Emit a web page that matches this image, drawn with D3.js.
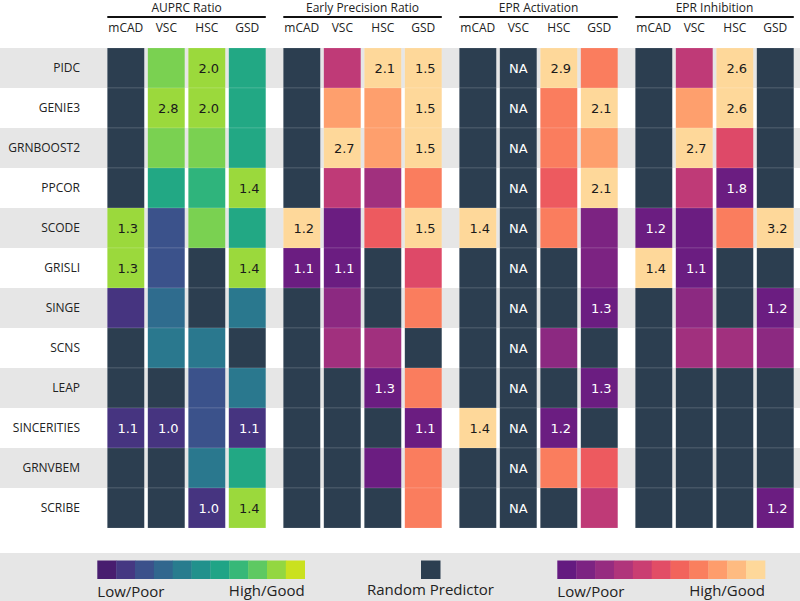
<!DOCTYPE html>
<html>
<head>
<meta charset="utf-8">
<script src="https://cdn.jsdelivr.net/npm/d3@7"></script>
<style>
  body { margin: 0; background: #fff; }
  svg { display: block; }
</style>
</head>
<body>
<div id="chart"></div>
<script>
// algorithms (rows), datasets (columns), metrics (column groups)
var algorithms = ["PIDC", "GENIE3", "GRNBOOST2", "PPCOR", "SCODE", "GRISLI",
                  "SINGE", "SCNS", "LEAP", "SINCERITIES", "GRNVBEM", "SCRIBE"];
var datasets = ["mCAD", "VSC", "HSC", "GSD"];
var metrics = ["AUPRC Ratio", "Early Precision Ratio", "EPR Activation", "EPR Inhibition"];

// colour score of each cell (position on the palette), null = random predictor
var auprcScore = [
  [null, 0.80, 0.85, 0.60],
  [null, 0.85, 0.85, 0.60],
  [null, 0.80, 0.80, 0.60],
  [null, 0.60, 0.65, 0.85],
  [0.85, 0.25, 0.80, 0.60],
  [0.85, 0.25, null, 0.85],
  [0.15, 0.35, null, 0.40],
  [null, 0.40, 0.40, null],
  [null, null, 0.25, 0.40],
  [0.15, 0.15, 0.25, 0.15],
  [null, null, 0.40, 0.60],
  [null, null, 0.15, 0.85]
];
var auprcLabel = [
  ["", "", "2.0", ""],
  ["", "2.8", "2.0", ""],
  ["", "", "", ""],
  ["", "", "", "1.4"],
  ["1.3", "", "", ""],
  ["1.3", "", "", "1.4"],
  ["", "", "", ""],
  ["", "", "", ""],
  ["", "", "", ""],
  ["1.1", "1.0", "", "1.1"],
  ["", "", "", ""],
  ["", "", "1.0", "1.4"]
];

var eprScore = [
  [null, 0.52, 0.92, 0.92],
  [null, 0.80, 0.80, 0.92],
  [null, 0.92, 0.80, 0.92],
  [null, 0.52, 0.45, 0.73],
  [0.92, 0.32, 0.65, 0.92],
  [0.32, 0.32, null, 0.60],
  [null, 0.40, null, 0.73],
  [null, 0.45, 0.45, null],
  [null, null, 0.32, 0.73],
  [null, null, null, 0.32],
  [null, null, 0.32, 0.73],
  [null, null, null, 0.73]
];
var eprLabel = [
  ["", "", "2.1", "1.5"],
  ["", "", "", "1.5"],
  ["", "2.7", "", "1.5"],
  ["", "", "", ""],
  ["1.2", "", "", "1.5"],
  ["1.1", "1.1", "", ""],
  ["", "", "", ""],
  ["", "", "", ""],
  ["", "", "1.3", ""],
  ["", "", "", "1.1"],
  ["", "", "", ""],
  ["", "", "", ""]
];

var actScore = [
  [null, null, 0.92, 0.73],
  [null, null, 0.73, 0.92],
  [null, null, 0.73, 0.80],
  [null, null, 0.65, 0.92],
  [0.92, null, 0.73, 0.36],
  [null, null, null, 0.36],
  [null, null, null, 0.32],
  [null, null, 0.40, null],
  [null, null, null, 0.32],
  [0.92, null, 0.32, null],
  [null, null, 0.73, 0.65],
  [null, null, null, 0.52]
];
var actLabel = [
  ["", "NA", "2.9", ""],
  ["", "NA", "", "2.1"],
  ["", "NA", "", ""],
  ["", "NA", "", "2.1"],
  ["1.4", "NA", "", ""],
  ["", "NA", "", ""],
  ["", "NA", "", "1.3"],
  ["", "NA", "", ""],
  ["", "NA", "", "1.3"],
  ["1.4", "NA", "1.2", ""],
  ["", "NA", "", ""],
  ["", "NA", "", ""]
];

var inhScore = [
  [null, 0.52, 0.92, null],
  [null, 0.80, 0.92, null],
  [null, 0.92, 0.60, null],
  [null, 0.52, 0.32, null],
  [0.32, 0.32, 0.73, 0.92],
  [0.92, 0.32, null, null],
  [null, 0.40, null, 0.32],
  [null, 0.45, 0.45, 0.40],
  [null, null, null, null],
  [null, null, null, null],
  [null, null, null, null],
  [null, null, null, 0.32]
];
var inhLabel = [
  ["", "", "2.6", ""],
  ["", "", "2.6", ""],
  ["", "2.7", "", ""],
  ["", "", "1.8", ""],
  ["1.2", "", "", "3.2"],
  ["1.4", "1.1", "", ""],
  ["", "", "", "1.2"],
  ["", "", "", ""],
  ["", "", "", ""],
  ["", "", "", ""],
  ["", "", "", ""],
  ["", "", "", "1.2"]
];

// legend palette stops
var viridisStops = [0.08, 0.164, 0.248, 0.332, 0.416, 0.5, 0.584, 0.668, 0.752, 0.836, 0.92];
var magmaStops = [0.30, 0.362, 0.424, 0.486, 0.548, 0.61, 0.672, 0.734, 0.796, 0.858, 0.92];

var width = 800, height = 601;
var randomColor = "#2c3e50";
var labelFont = "'Open Sans', sans-serif";
var cellFont = "'DejaVu Sans', sans-serif";

var viridis = d3.scaleSequential(d3.interpolateViridis).domain([0, 1]);
var magma = d3.scaleSequential(d3.interpolateMagma).domain([0, 1]);

var groups = [
  { name: metrics[0], score: auprcScore, label: auprcLabel, color: viridis, dark: 0.78 },
  { name: metrics[1], score: eprScore, label: eprLabel, color: magma, dark: 0.85 },
  { name: metrics[2], score: actScore, label: actLabel, color: magma, dark: 0.85 },
  { name: metrics[3], score: inhScore, label: inhLabel, color: magma, dark: 0.85 }
];

var svg = d3.select("#chart").append("svg")
  .attr("width", width).attr("height", height);

var y = d3.scaleBand().domain(algorithms).range([48, 528]);
var xGroup = d3.scaleBand().domain(metrics).range([107.3, 793.8]).paddingInner(0.0994);
var xCol = d3.scaleBand().domain(datasets).range([0, xGroup.bandwidth()]).paddingInner(0.086);

// row stripes
svg.append("g").selectAll("rect")
  .data(algorithms.filter(function(d, i) { return i % 2 === 0; }))
  .join("rect")
  .attr("x", 0).attr("width", width)
  .attr("y", function(d) { return y(d); })
  .attr("height", y.bandwidth())
  .attr("fill", "#e6e6e6");

// row labels
svg.append("g").selectAll("text")
  .data(algorithms)
  .join("text")
  .attr("x", 80)
  .attr("y", function(d) { return y(d) + y.bandwidth() / 2 + 4.4; })
  .attr("text-anchor", "end")
  .attr("font-family", labelFont).attr("font-size", "12px")
  .attr("fill", "#222")
  .text(function(d) { return d; });

groups.forEach(function(g) {
  var gx = xGroup(g.name);
  var grp = svg.append("g").attr("transform", "translate(" + gx + ",0)");

  grp.append("text")
    .attr("x", xGroup.bandwidth() / 2).attr("y", 12)
    .attr("text-anchor", "middle")
    .attr("font-family", labelFont).attr("font-size", "12px")
    .attr("fill", "#222")
    .text(g.name);

  grp.append("line")
    .attr("x1", 0).attr("x2", xGroup.bandwidth())
    .attr("y1", 17).attr("y2", 17)
    .attr("stroke", "#111").attr("stroke-width", 1.8);

  grp.selectAll(".col")
    .data(datasets)
    .join("text")
    .attr("class", "col")
    .attr("x", function(d) { return xCol(d) + xCol.bandwidth() / 2; })
    .attr("y", 31.7)
    .attr("text-anchor", "middle")
    .attr("font-family", labelFont).attr("font-size", "12px")
    .attr("fill", "#222")
    .text(function(d) { return d; });

  var cells = [];
  algorithms.forEach(function(a, i) {
    datasets.forEach(function(ds, j) {
      cells.push({ alg: a, ds: ds, score: g.score[i][j], label: g.label[i][j] });
    });
  });

  grp.selectAll(".cell")
    .data(cells)
    .join("rect")
    .attr("class", "cell")
    .attr("x", function(d) { return xCol(d.ds); })
    .attr("y", function(d) { return y(d.alg); })
    .attr("width", xCol.bandwidth())
    .attr("height", y.bandwidth())
    .attr("fill", function(d) { return d.score === null ? randomColor : g.color(d.score); })
    .attr("stroke", "#ffffff").attr("stroke-opacity", 0.25).attr("stroke-width", 0.5);

  grp.selectAll(".val")
    .data(cells.filter(function(d) { return d.label !== ""; }))
    .join("text")
    .attr("class", "val")
    .attr("x", function(d) { return xCol(d.ds) + xCol.bandwidth() / 2 + (d.label === "NA" ? 0 : 2); })
    .attr("y", function(d) { return y(d.alg) + y.bandwidth() / 2 + 4.5; })
    .attr("text-anchor", "middle")
    .attr("font-family", cellFont).attr("font-size", "13px")
    .attr("fill", function(d) { return d.score !== null && d.score >= g.dark ? "#1a1a1a" : "#ffffff"; })
    .text(function(d) { return d.label; });
});

// legend band
var legend = svg.append("g");
legend.append("rect").attr("x", 0).attr("y", 553).attr("width", width).attr("height", height - 553)
  .attr("fill", "#e6e6e6");

function colorBar(stops, scale, x0, x1) {
  var bx = d3.scaleBand().domain(d3.range(stops.length)).range([x0, x1]);
  legend.append("g").selectAll("rect")
    .data(stops)
    .join("rect")
    .attr("x", function(d, i) { return bx(i); })
    .attr("y", 560.5)
    .attr("width", bx.bandwidth() + 0.3)
    .attr("height", 18.5)
    .attr("fill", function(d) { return scale(d); });
  legend.append("text").attr("x", x0).attr("y", 597)
    .attr("font-family", labelFont).attr("font-size", "15px").attr("fill", "#222")
    .text("Low/Poor");
  legend.append("text").attr("x", x1).attr("y", 595.5).attr("text-anchor", "end")
    .attr("font-family", labelFont).attr("font-size", "15px").attr("fill", "#222")
    .text("High/Good");
}
colorBar(viridisStops, viridis, 97.3, 304.7);
colorBar(magmaStops, magma, 557.3, 765);

legend.append("rect").attr("x", 421).attr("y", 560.5).attr("width", 19.5).attr("height", 18.5)
  .attr("fill", randomColor);
legend.append("text").attr("x", 430.5).attr("y", 595)
  .attr("text-anchor", "middle")
  .attr("font-family", labelFont).attr("font-size", "15px").attr("fill", "#222")
  .text("Random Predictor");
</script>
</body>
</html>
